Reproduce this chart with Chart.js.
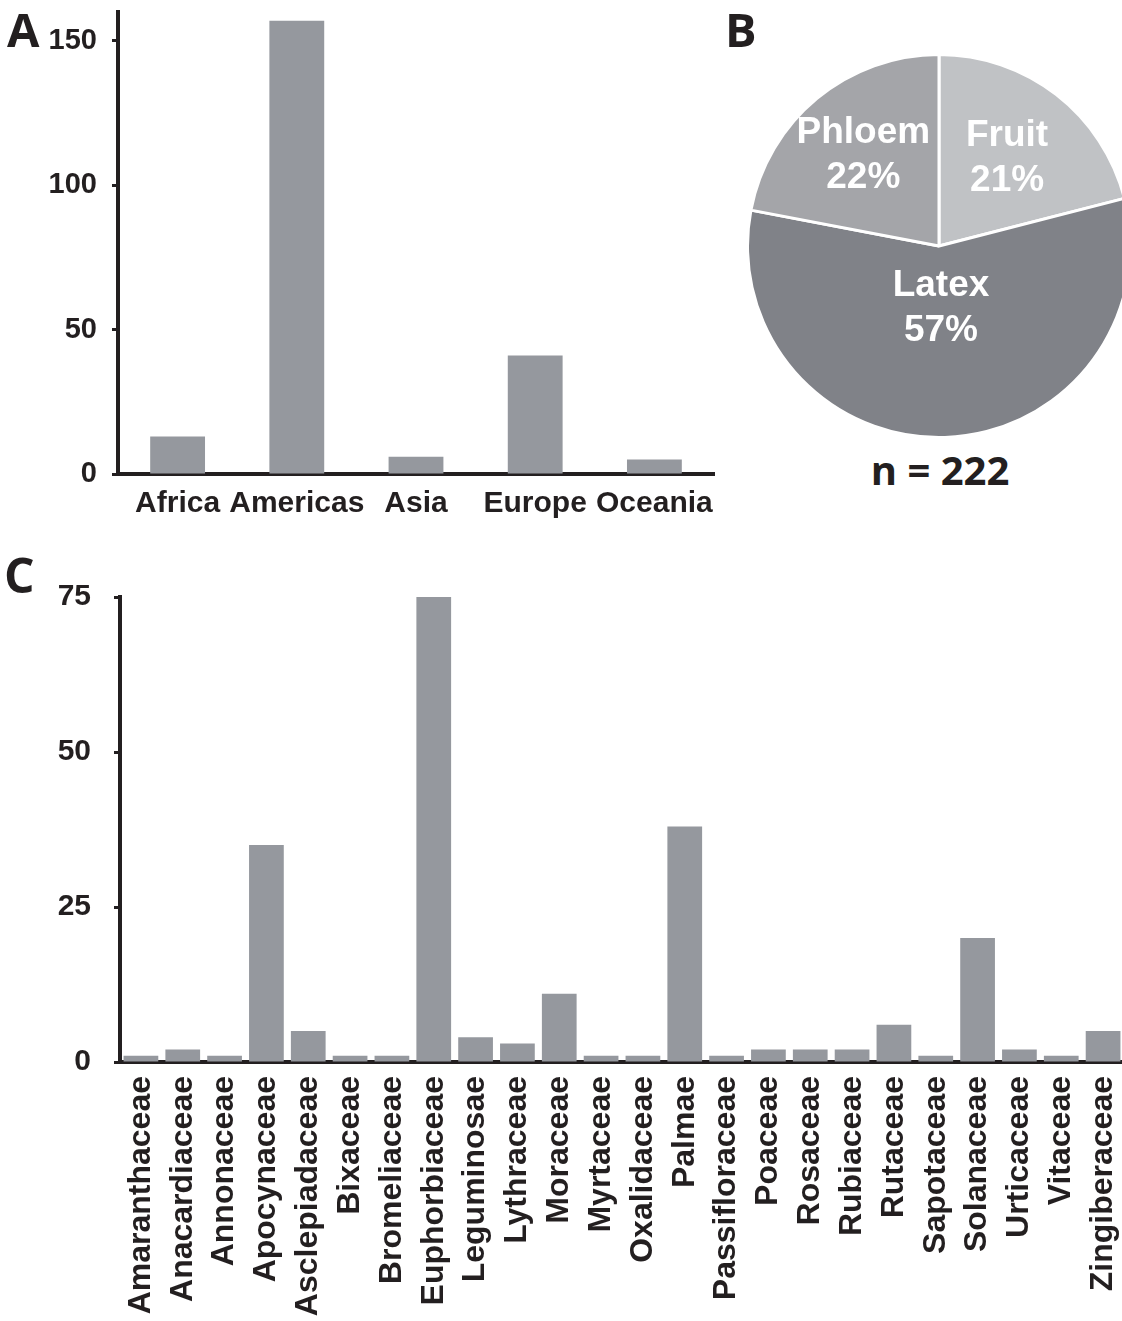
<!DOCTYPE html>
<html>
<head>
<meta charset="utf-8">
<script src="https://cdn.jsdelivr.net/npm/chart.js@4.4.1/dist/chart.umd.min.js"></script>
<style>
  html, body { margin: 0; padding: 0; background: #fff; overflow: hidden; }
  body { width: 1122px; height: 1321px; position: relative; }
  canvas, .tag { position: absolute; }
  .tag { font-family: "Open Sans", sans-serif; font-weight: 700; color: #231f20; line-height: 1; white-space: nowrap; }
</style>
</head>
<body>
<canvas id="regionChart" width="730" height="530" style="left:0;top:0"></canvas>
<canvas id="sourceChart" width="386" height="386" style="left:746px;top:53px"></canvas>
<canvas id="familyChart" width="1126" height="791" style="left:0;top:530px"></canvas>
<div class="tag" style="left:7px;top:6px;font-size:47px">A</div>
<div class="tag" style="left:725px;top:6px;font-size:47px">B</div>
<div class="tag" style="left:4px;top:551px;font-size:48px">C</div>
<div class="tag" style="left:740px;top:450px;width:400px;text-align:center;font-size:40px">n = 222</div>

<script>
//Panel A data
const regions = ["Africa", "Americas", "Asia", "Europe", "Oceania"];
const regionCounts = [13, 157, 6, 41, 5];
const regionTicks = [0, 50, 100, 150];

//Panel B data (percent of n = 222)
const sources = ["Fruit", "Latex", "Phloem"];
const sourceShares = [21, 57, 22];

//Panel C data
const families = [
    "Amaranthaceae", "Anacardiaceae", "Annonaceae", "Apocynaceae", "Asclepiadaceae",
    "Bixaceae", "Bromeliaceae", "Euphorbiaceae", "Leguminosae", "Lythraceae",
    "Moraceae", "Myrtaceae", "Oxalidaceae", "Palmae", "Passifloraceae",
    "Poaceae", "Rosaceae", "Rubiaceae", "Rutaceae", "Sapotaceae",
    "Solanaceae", "Urticaceae", "Vitaceae", "Zingiberaceae"
];
const familyCounts = [1, 2, 1, 35, 5, 1, 1, 75, 4, 3, 11, 1, 1, 38, 1, 2, 2, 2, 6, 1, 20, 2, 1, 5];
const familyTicks = [0, 25, 50, 75];

const ink = "#231f20";
const barGray = "#95989e";
const sansBold = (size) => ({family: "'Liberation Sans', Arial, sans-serif", size: size, weight: "bold"});

//Shared bar chart builder
function barChart(id, labels, values, tickValues, opt) {
    return new Chart(document.getElementById(id), {
        type: "bar",
        data: {
            labels: labels,
            datasets: [{
                data: values,
                backgroundColor: barGray,
                barPercentage: opt.barPct,
                categoryPercentage: 1
            }]
        },
        options: {
            responsive: false,
            animation: false,
            events: [],
            layout: {padding: opt.padding},
            plugins: {legend: {display: false}, tooltip: {enabled: false}},
            scales: {
                x: {
                    z: 1,
                    afterFit: s => { s.height = opt.xHeight; s.paddingLeft = 0; s.paddingRight = 0; },
                    border: {color: ink, width: 4},
                    grid: {display: false, drawTicks: false},
                    ticks: {
                        font: sansBold(opt.xFont), color: ink, padding: opt.xPad,
                        autoSkip: false, minRotation: opt.rot, maxRotation: opt.rot
                    }
                },
                y: {
                    z: 1,
                    min: 0,
                    max: opt.max,
                    afterBuildTicks: s => { s.ticks = tickValues.map(v => ({value: v})); },
                    afterFit: s => { s.width = opt.yWidth; s.paddingTop = 0; s.paddingBottom = 0; },
                    border: {color: ink, width: 4},
                    grid: {drawOnChartArea: false, drawTicks: true, tickLength: 6, tickWidth: 3, tickColor: ink},
                    ticks: {font: sansBold(opt.yFont), color: ink, padding: opt.yPad}
                }
            }
        }
    });
}

barChart("regionChart", regions, regionCounts, regionTicks, {
    barPct: 0.46, max: 160,
    padding: {top: 12, right: 16, left: 0, bottom: 0},
    xHeight: 56, yWidth: 118, xFont: 30, yFont: 29, xPad: 12, yPad: 15, rot: 0
});

barChart("familyChart", families, familyCounts, familyTicks, {
    barPct: 0.83, max: 75,
    padding: {top: 67, right: 2, left: 0, bottom: 0},
    xHeight: 259, yWidth: 120, xFont: 32, yFont: 30, xPad: 14, yPad: 23, rot: 90
});

//Labels inside pie slices
const sliceLabels = {
    id: "sliceLabels",
    afterDatasetsDraw(chart, args, opts) {
        const ctx = chart.ctx;
        const arcs = chart.getDatasetMeta(0).data;
        ctx.save();
        ctx.fillStyle = "#fff";
        ctx.font = "bold 37px 'Liberation Sans', Arial, sans-serif";
        ctx.textAlign = "center";
        ctx.textBaseline = "middle";
        arcs.forEach((arc, i) => {
            const {x, y, startAngle, endAngle, outerRadius} = arc.getProps(["x", "y", "startAngle", "endAngle", "outerRadius"]);
            const mid = (startAngle + endAngle) / 2;
            const r = outerRadius * opts.radius[i];
            const cx = x + Math.cos(mid) * r;
            const cy = y + Math.sin(mid) * r;
            ctx.fillText(chart.data.labels[i], cx, cy - 22);
            ctx.fillText(chart.data.datasets[0].data[i] + "%", cx, cy + 23);
        });
        ctx.restore();
    }
};

new Chart(document.getElementById("sourceChart"), {
    type: "pie",
    data: {
        labels: sources,
        datasets: [{
            data: sourceShares,
            backgroundColor: ["#c0c2c5", "#808288", "#a4a5a9"],
            borderColor: "#fff",
            borderWidth: 3
        }]
    },
    options: {
        responsive: false,
        animation: false,
        events: [],
        layout: {padding: 0},
        plugins: {
            legend: {display: false},
            tooltip: {enabled: false},
            sliceLabels: {radius: [0.58, 0.325, 0.62]}
        }
    },
    plugins: [sliceLabels]
});
</script>
</body>
</html>
